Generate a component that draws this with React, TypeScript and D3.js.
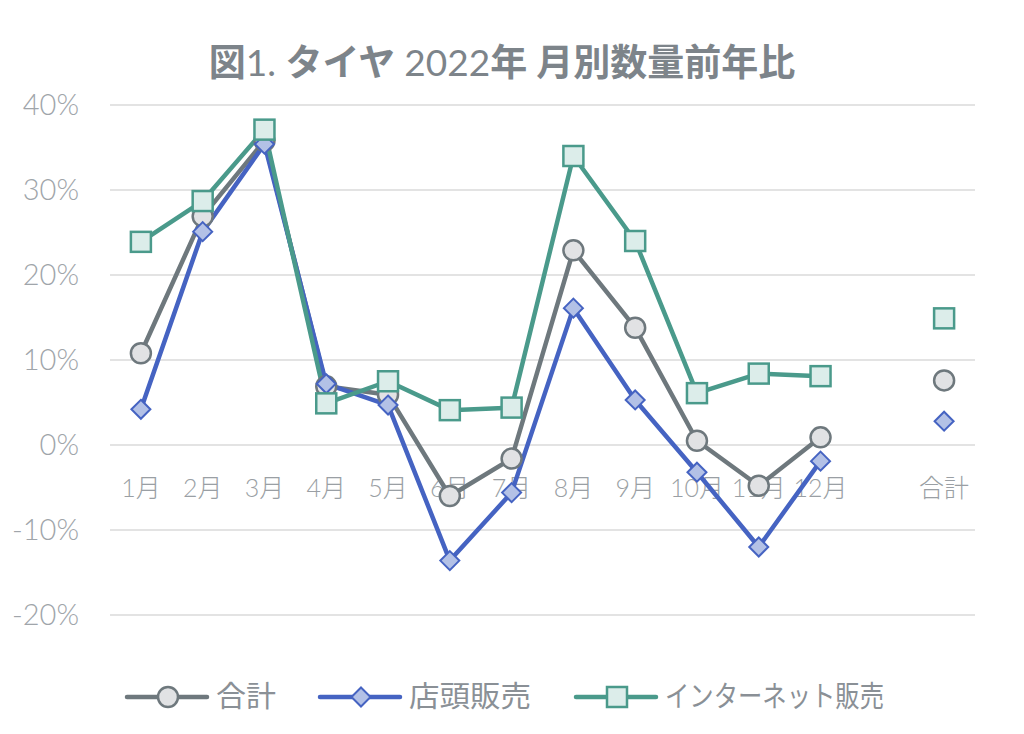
import React from "react";
import * as d3 from "d3";

const categories = ["1月", "2月", "3月", "4月", "5月", "6月", "7月", "8月", "9月", "10月", "11月", "12月", "", "合計"];
const totalValues: (number | null)[] = [10.8, 26.9, 35.8, 6.9, 5.9, -6.0, -1.6, 22.9, 13.8, 0.5, -4.8, 0.9, null, 7.6];
const storeValues: (number | null)[] = [4.2, 25.1, 35.4, 7.2, 4.7, -13.6, -5.6, 16.1, 5.3, -3.2, -12.0, -1.9, null, 2.8];
const netValues: (number | null)[] = [23.9, 28.7, 37.1, 4.9, 7.5, 4.1, 4.4, 34.0, 24.0, 6.1, 8.4, 8.1, null, 14.9];
const yTicks = [40, 30, 20, 10, 0, -10, -20];
const seriesNames = ["合計", "店頭販売", "インターネット販売"];

const W = 1024;
const H = 734;
const FONT = "Lato, 'Noto Sans CJK JP', sans-serif";
const TEXT = "#8a9096";

type Series = { name: string; values: (number | null)[]; stroke: string; fill: string; shape: "circle" | "diamond" | "square" };

const series: Series[] = [
  { name: seriesNames[0], values: totalValues, stroke: "#6e787d", fill: "#e1e2e4", shape: "circle" },
  { name: seriesNames[1], values: storeValues, stroke: "#4563c2", fill: "#b3c1e6", shape: "diamond" },
  { name: seriesNames[2], values: netValues, stroke: "#4a9a8b", fill: "#dcedea", shape: "square" },
];

function Marker({ shape, x, y, stroke, fill }: { shape: string; x: number; y: number; stroke: string; fill: string }) {
  if (shape === "circle") return <circle cx={x} cy={y} r={10} fill={fill} stroke={stroke} strokeWidth={2.5} />;
  if (shape === "diamond") {
    const s = 9.5;
    return <path d={`M${x},${y - s}L${x + s},${y}L${x},${y + s}L${x - s},${y}Z`} fill={fill} stroke={stroke} strokeWidth={2} />;
  }
  return <rect x={x - 10} y={y - 10} width={20} height={20} fill={fill} stroke={stroke} strokeWidth={2.5} />;
}

export default function App() {
  const x = d3.scaleBand<string>().domain(categories.map((c, i) => String(i))).range([110, 975]);
  const y = d3.scaleLinear().domain([-20, 40]).range([615, 105]);
  const cx = (i: number) => (x(String(i)) as number) + x.bandwidth() / 2;

  const line = d3
    .line<number | null>()
    .defined((d, i) => d !== null && i < 12)
    .x((_, i) => cx(i))
    .y((d) => y(d as number));

  const legendItems = [
    { s: series[0], lx: 127, tl: 60 },
    { s: series[1], lx: 320, tl: 122 },
    { s: series[2], lx: 576, tl: 219 },
  ];

  return (
    <svg width={W} height={H} style={{ position: "absolute", left: 0, top: 0, background: "#fff" }} fontFamily={FONT}>
      <text x={502} y={76} textAnchor="middle" fontSize={37} fill="#7d848a" fontWeight={700}>
        <tspan>図</tspan>
        <tspan fontWeight={400}>1. </tspan>
        <tspan>タイヤ </tspan>
        <tspan fontWeight={400}>2022</tspan>
        <tspan>年 月別数量前年比</tspan>
      </text>

      {yTicks.map((t) => (
        <g key={t}>
          <line x1={110} x2={975} y1={y(t)} y2={y(t)} stroke="#e3e3e3" strokeWidth={2} />
          <text x={79} y={y(t)} dy="0.35em" textAnchor="end" fontSize={29} fill="#a0a5aa" fontWeight={300}>
            {t}%
          </text>
        </g>
      ))}

      {categories.map((c, i) => (
        <text key={i} x={cx(i)} y={488} dy="0.35em" textAnchor="middle" fontSize={25} fill="#9a9fa4" fontWeight={300}>
          {c}
        </text>
      ))}

      {series.map((s) => (
        <path key={s.name} d={line(s.values) || ""} fill="none" stroke={s.stroke} strokeWidth={4.5} strokeLinejoin="round" />
      ))}
      {series.map((s) => (
        <g key={s.name + "m"}>
          {s.values.map((v, i) =>
            v === null ? null : <Marker key={i} shape={s.shape} x={cx(i)} y={y(v)} stroke={s.stroke} fill={s.fill} />
          )}
        </g>
      ))}

      {legendItems.map(({ s, lx, tl }) => (
        <g key={s.name + "l"}>
          <line x1={lx} x2={lx + 80} y1={697} y2={697} stroke={s.stroke} strokeWidth={4.5} strokeLinecap="round" />
          <Marker shape={s.shape} x={lx + 41} y={697} stroke={s.stroke} fill={s.fill} />
          <text x={lx + 89} y={697} dy="0.35em" fontSize={29} fill={TEXT} textLength={tl} lengthAdjust="spacingAndGlyphs">
            {s.name}
          </text>
        </g>
      ))}
    </svg>
  );
}
